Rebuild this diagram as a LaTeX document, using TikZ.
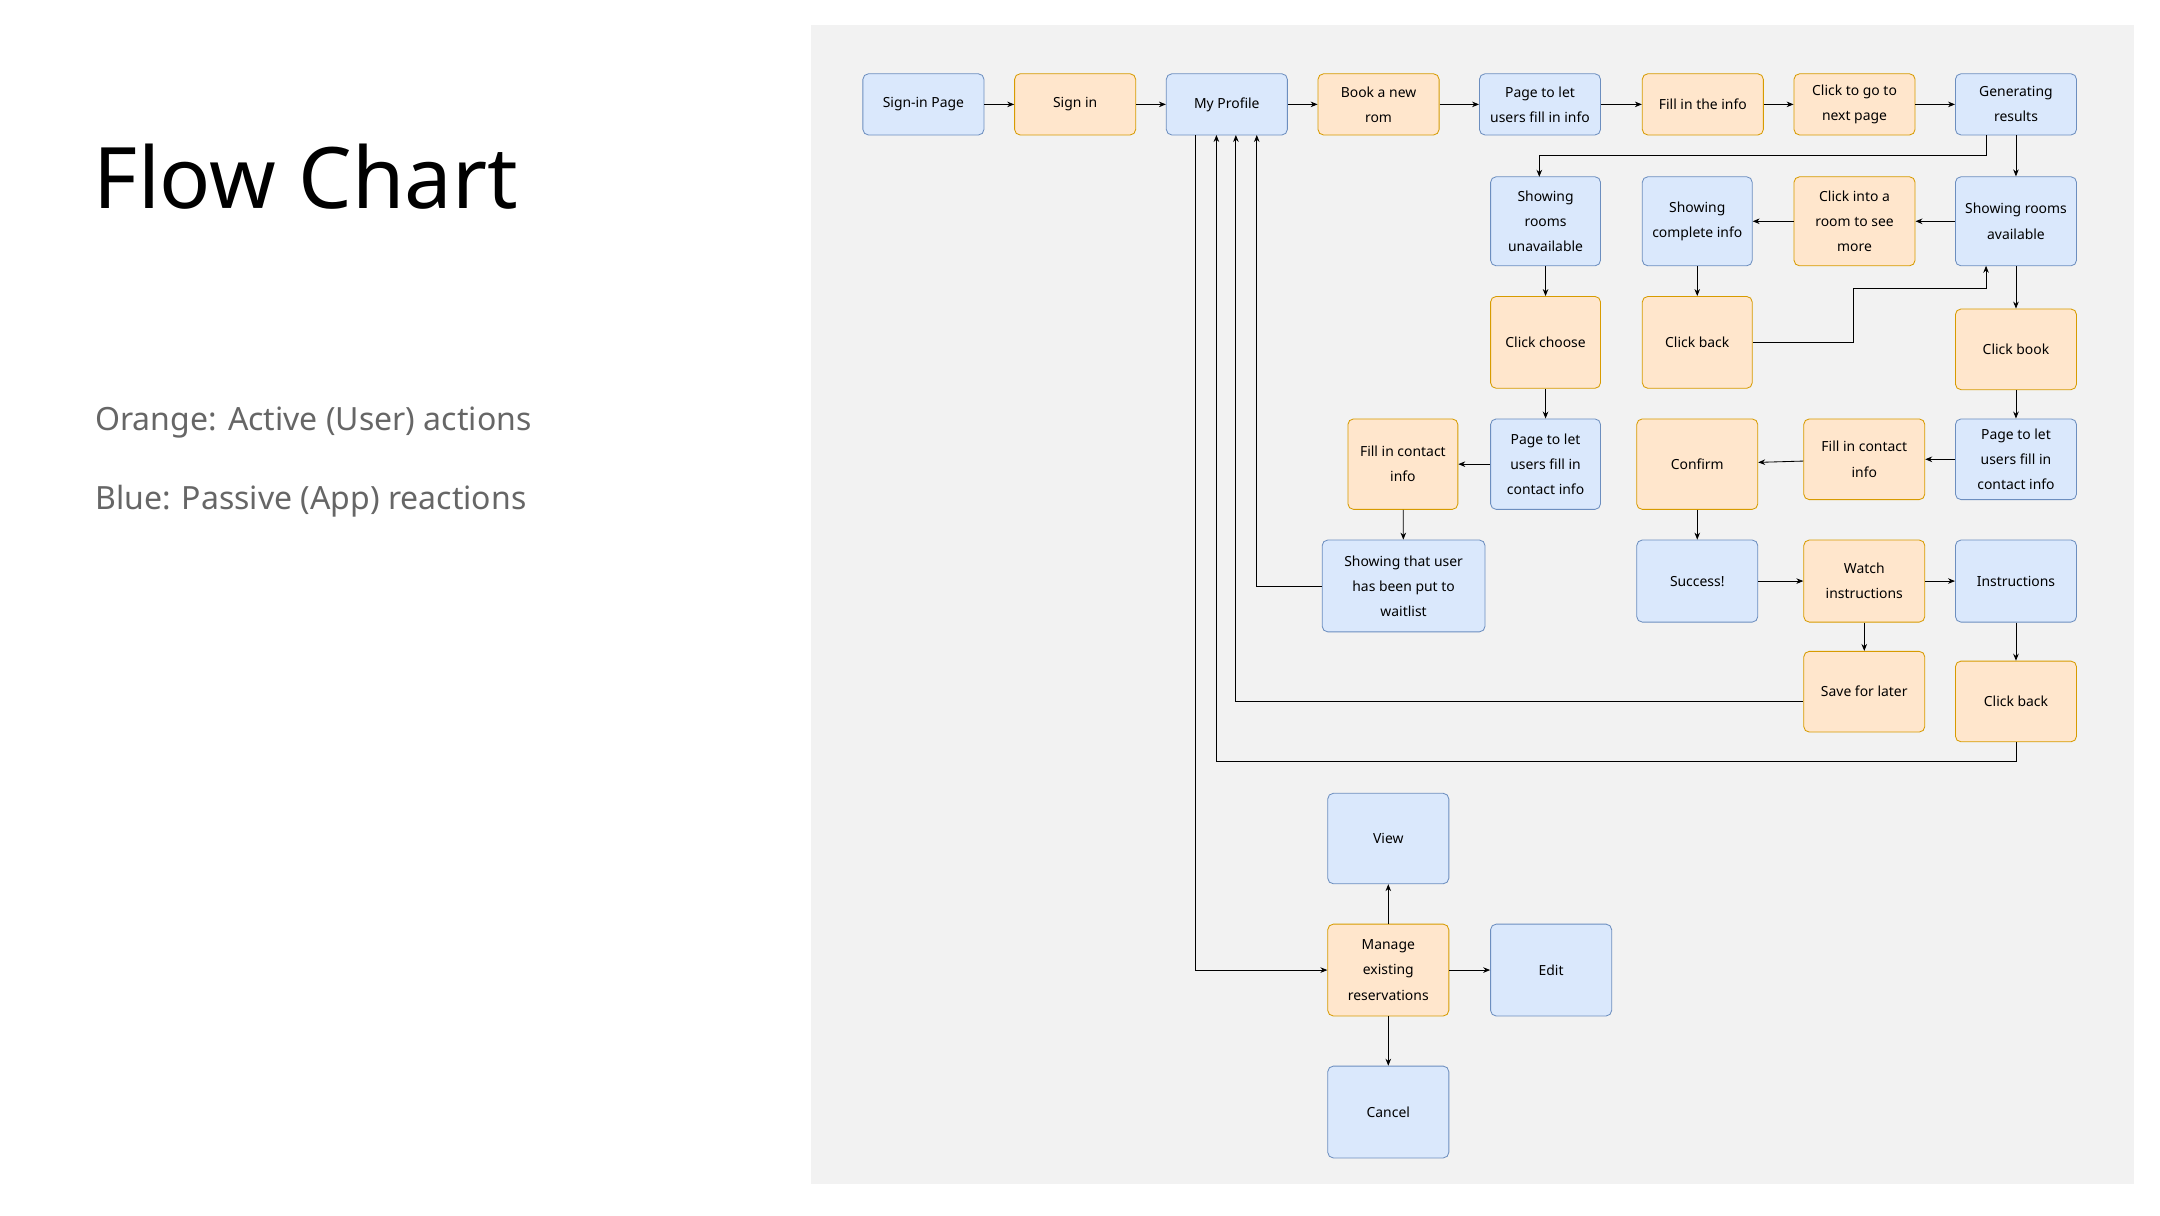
\documentclass[tikz,border=0pt]{standalone}
\usepackage{fontspec}
\setmainfont{Noto Sans}
\usetikzlibrary{arrows.meta}
\definecolor{bfill}{HTML}{DAE8FC}\definecolor{bdraw}{HTML}{6C8EBF}
\definecolor{ofill}{HTML}{FFE6CC}\definecolor{odraw}{HTML}{D79B00}
\begin{document}
\begin{tikzpicture}[x=1pt,y=-1pt,
 box/.style={rounded corners=4pt,align=center,font=\fontsize{10}{18}\selectfont,inner sep=1pt,line width=0.6pt},
 bl/.style={box,fill=bfill,draw=bdraw},
 or/.style={box,fill=ofill,draw=odraw},
 w87/.style={minimum width=87pt},w79/.style={minimum width=79pt},
 a/.style={-{Stealth[length=5pt,width=4pt]},line width=0.6pt}]
\useasboundingbox (0,0) rectangle (1552,873);
\fill[white] (0,0) rectangle (1552,873);
\fill[black!5] (583,18) rectangle (1533,851);
\node[anchor=base west,font=\fontsize{61}{66}\selectfont] (title) at (64,150) {Flow Chart};
\node[anchor=base west,font=\fontsize{23}{28}\selectfont,text=black!60] (l1) at (65,309) {Orange: Active (User) actions};
\node[anchor=base west,font=\fontsize{23}{28}\selectfont,text=black!60] (l2) at (65,366) {Blue: Passive (App) reactions};
% row 1
\node[bl,w87,minimum height=44pt] (signpage) at (663.5,75) {Sign-in Page};
\node[or,w87,minimum height=44pt] (signin) at (772.5,75) {Sign in};
\node[bl,w87,minimum height=44pt] (profile) at (881.5,75) {My Profile};
\node[or,w87,minimum height=44pt] (book) at (990.5,75) {Book a new\\rom};
\node[bl,w87,minimum height=44pt] (pfill) at (1106.5,75) {Page to let\\users fill in info};
\node[or,w87,minimum height=44pt] (fill) at (1223.5,75) {Fill in the info};
\node[or,w87,minimum height=44pt] (next) at (1332.5,75) {Click to go to\\next page};
\node[bl,w87,minimum height=44pt] (gen) at (1448.5,75) {Generating\\results};
% row 2
\node[bl,w79,minimum height=64pt] (unav) at (1110.5,159) {Showing\\rooms\\unavailable};
\node[bl,w79,minimum height=64pt] (comp) at (1219.5,159) {Showing\\complete info};
\node[or,w87,minimum height=64pt] (into) at (1332.5,159) {Click into a\\room to see\\more};
\node[bl,w87,minimum height=64pt] (avail) at (1448.5,159) {Showing rooms\\available};
% row 3
\node[or,w79,minimum height=66pt] (choose) at (1110.5,246) {Click choose};
\node[or,w79,minimum height=66pt] (back1) at (1219.5,246) {Click back};
\node[or,w87,minimum height=58pt] (cbook) at (1448.5,251) {Click book};
% row 4
\node[or,w79,minimum height=65pt] (fc1) at (1008,333.5) {Fill in contact\\info};
\node[bl,w79,minimum height=65pt] (pc1) at (1110.5,333.5) {Page to let\\users fill in\\contact info};
\node[or,w87,minimum height=65pt] (confirm) at (1219.5,333.5) {Confirm};
\node[or,w87,minimum height=58pt] (fc2) at (1339.5,330) {Fill in contact\\info};
\node[bl,w87,minimum height=58pt] (pc2) at (1448.5,330) {Page to let\\users fill in\\contact info};
% row 5
\node[bl,minimum width=117pt,minimum height=66pt] (wait) at (1008.5,421) {Showing that user\\has been put to\\waitlist};
\node[bl,w87,minimum height=59pt] (succ) at (1219.5,417.5) {Success!};
\node[or,w87,minimum height=59pt] (watch) at (1339.5,417.5) {Watch\\instructions};
\node[bl,w87,minimum height=59pt] (instr) at (1448.5,417.5) {Instructions};
% row 6
\node[or,w87,minimum height=58pt] (save) at (1339.5,497) {Save for later};
\node[or,w87,minimum height=58pt] (back2) at (1448.5,504) {Click back};
% bottom
\node[bl,w87,minimum height=65pt] (view) at (997.5,602.5) {View};
\node[or,w87,minimum height=66pt] (manage) at (997.5,697) {Manage\\existing\\reservations};
\node[bl,w87,minimum height=66pt] (edit) at (1114.5,697) {Edit};
\node[bl,w87,minimum height=66pt] (cancel) at (997.5,799) {Cancel};
% edges
\draw[a] (signpage) -- (signin);
\draw[a] (signin) -- (profile);
\draw[a] (profile) -- (book);
\draw[a] (book) -- (pfill);
\draw[a] (pfill) -- (fill);
\draw[a] (fill) -- (next);
\draw[a] (next) -- (gen);
\draw[a] (gen.south -| 1427,0) |- (1106,112) -- (1106,127);
\draw[a] (gen) -- (avail);
\draw[a] (avail) -- (into);
\draw[a] (into) -- (comp);
\draw[a] (comp) -- (back1);
\draw[a] (back1.east) -- (1332,246) |- (1427,207) -- (1427,191);
\draw[a] (avail) -- (cbook);
\draw[a] (cbook) -- (pc2);
\draw[a] (pc2) -- (fc2);
\draw[a] (fc2) -- (confirm);
\draw[a] (confirm) -- (confirm |- succ.north);
\draw[a] (succ) -- (watch);
\draw[a] (watch) -- (instr);
\draw[a] (watch) -- (save);
\draw[a] (instr) -- (back2);
\draw[a] (unav) -- (choose);
\draw[a] (choose) -- (pc1);
\draw[a] (pc1) -- (fc1);
\draw[a] (fc1) -- (wait);
\draw[a] (wait.west) -| (903,97);
\draw[a] (save.west |- 0,504) -| (888,97);
\draw[a] (back2.south) |- (874,547) -- (874,97);
\draw[a] (859,97) |- (manage.west);
\draw[a] (manage) -- (view);
\draw[a] (manage) -- (edit);
\draw[a] (manage) -- (cancel);
\end{tikzpicture}
\end{document}
